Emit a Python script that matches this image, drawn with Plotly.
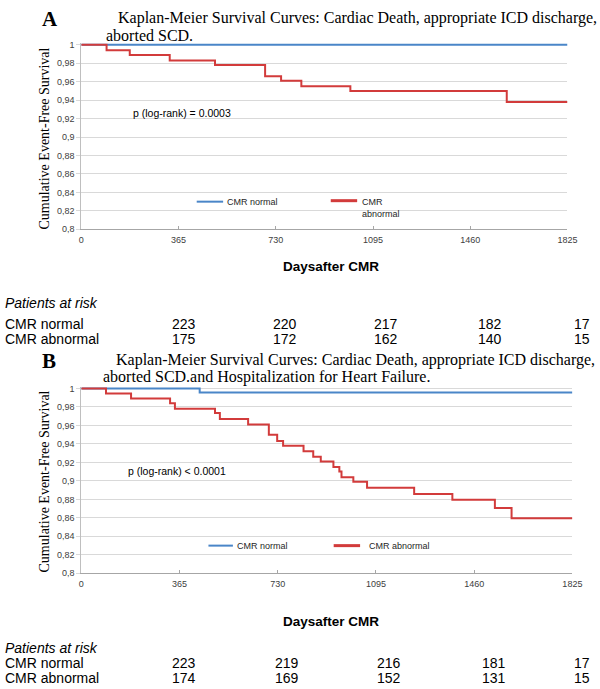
import plotly.graph_objects as go

W, H = 600, 689

# ---------------- data ----------------
day_ticks = [0, 365, 730, 1095, 1460, 1825]
surv_ticks = [0.8, 0.82, 0.84, 0.86, 0.88, 0.9, 0.92, 0.94, 0.96, 0.98, 1.0]
surv_tick_labels = ["0,8", "0,82", "0,84", "0,86", "0,88", "0,9", "0,92", "0,94", "0,96", "0,98", "1"]

# Panel A
a_normal_days = [0, 1825]
a_normal_surv = [1.0, 1.0]
a_abn_days = [0, 95, 182, 332, 502, 690, 750, 826, 1010, 1597, 1825]
a_abn_surv = [1.0, 0.994, 0.989, 0.983, 0.978, 0.966, 0.961, 0.955, 0.950, 0.938, 0.938]

# Panel B
b_normal_days = [0, 440, 1825]
b_normal_surv = [1.0, 0.9957, 0.9957]
b_abn_days = [0, 92, 185, 330, 348, 497, 515, 620, 697, 728, 750, 826, 862, 890,
              937, 959, 967, 1011, 1062, 1237, 1379, 1537, 1599, 1825]
b_abn_surv = [1.0, 0.9946, 0.989, 0.984, 0.978, 0.9733, 0.967, 0.961, 0.950, 0.943,
              0.938, 0.932, 0.926, 0.921, 0.915, 0.910, 0.904, 0.899, 0.8925, 0.8857,
              0.8796, 0.8707, 0.8596, 0.8596]

risk_days = [365, 730, 1095, 1460, 1825]
a_risk_normal = ["223", "220", "217", "182", "17"]
a_risk_abn = ["175", "172", "162", "140", "15"]
b_risk_normal = ["223", "219", "216", "181", "17"]
b_risk_abn = ["174", "169", "152", "131", "15"]

title_a = ["Kaplan-Meier Survival Curves: Cardiac Death, appropriate ICD discharge,",
           "aborted SCD."]
title_b = ["Kaplan-Meier Survival Curves: Cardiac Death, appropriate ICD discharge,",
           "aborted SCD.and Hospitalization for Heart Failure."]

BLUE = "#4a86c8"
RED = "#d23b3b"
SERIF = "Liberation Serif, Times New Roman, serif"
SANS = "Liberation Sans, Arial, sans-serif"


def px(x):
    return x / W


def py(y):
    return 1 - y / H


fig = go.Figure()

fig.add_trace(go.Scatter(x=a_normal_days, y=a_normal_surv, mode="lines", line=dict(color=BLUE, width=2, shape="hv"),
                         xaxis="x", yaxis="y", showlegend=False))
fig.add_trace(go.Scatter(x=a_abn_days, y=a_abn_surv, mode="lines", line=dict(color=RED, width=2, shape="hv"),
                         xaxis="x", yaxis="y", showlegend=False))
fig.add_trace(go.Scatter(x=b_normal_days, y=b_normal_surv, mode="lines", line=dict(color=BLUE, width=2, shape="hv"),
                         xaxis="x2", yaxis="y2", showlegend=False))
fig.add_trace(go.Scatter(x=b_abn_days, y=b_abn_surv, mode="lines", line=dict(color=RED, width=2, shape="hv"),
                         xaxis="x2", yaxis="y2", showlegend=False))

xcommon = dict(range=[0, 1825], tickvals=day_ticks, ticktext=[str(d) for d in day_ticks],
               showgrid=False, zeroline=False, showline=True, linecolor="#a6a6a6", linewidth=1,
               ticks="inside", ticklen=3, tickcolor="#a6a6a6",
               tickfont=dict(family=SANS, size=9, color="#404040"), ticklabelstandoff=2)
ycommon = dict(range=[0.8, 1.002], tickvals=surv_ticks, ticktext=surv_tick_labels,
               showgrid=True, gridcolor="#d9d9d9", gridwidth=1, zeroline=False,
               showline=True, linecolor="#bfbfbf", linewidth=1,
               ticks="outside", ticklen=4, tickcolor="#d9d9d9",
               tickfont=dict(family=SANS, size=9, color="#404040"))

fig.update_layout(
    width=W, height=H, margin=dict(l=0, r=0, t=0, b=0),
    paper_bgcolor="white", plot_bgcolor="white",
    xaxis=dict(domain=[px(80), px(577)], anchor="y", **xcommon),
    yaxis=dict(domain=[py(229), py(40.4)], anchor="x", **ycommon),
    xaxis2=dict(domain=[px(80), px(582)], anchor="y2", **xcommon),
    yaxis2=dict(domain=[py(577), py(388.1)], anchor="x2", **ycommon),
)

ann = []


def text(x, y, s, size, family=SANS, anchor="left", color="#000000", bold=False, italic=False, angle=0):
    if bold:
        s = "<b>" + s + "</b>"
    if italic:
        s = "<i>" + s + "</i>"
    ann.append(dict(x=px(x), y=py(y), xref="paper", yref="paper", text=s, showarrow=False,
                    xanchor=anchor, yanchor="middle", textangle=angle,
                    font=dict(family=family, size=size, color=color)))


# panel letters and titles
text(38, 16, "A", 21, family=SERIF, bold=True)
text(116, 15, title_a[0], 16, family=SERIF)
text(103, 33, title_a[1], 16, family=SERIF)
text(38, 362, "B", 21, family=SERIF, bold=True)
text(113, 361, title_b[0], 16, family=SERIF)
text(100, 378, title_b[1], 16, family=SERIF)

# y-axis titles
text(42, 137, "Cumulative Event-Free Survival", 14, family=SERIF, anchor="center", angle=-90)
text(42, 484, "Cumulative Event-Free Survival", 14, family=SERIF, anchor="center", angle=-90)

# p values
text(131, 111, "p (log-rank) = 0.0003", 10.5)
text(126, 474, "p (log-rank) < 0.0001", 10.5)

# legends
shapes = []
for (x0, x1, y, c, w) in [(198, 225, 201, BLUE, 2), (335, 362, 200, RED, 3),
                          (210, 235, 549, BLUE, 2), (338, 365, 549, RED, 3)]:
    shapes.append(dict(type="line", xref="paper", yref="paper", x0=px(x0), x1=px(x1), y0=py(y), y1=py(y),
                       line=dict(color=c, width=w)))
text(227, 201, "CMR normal", 9, color="#262626")
text(365, 201, "CMR", 9, color="#262626")
text(365, 213, "abnormal", 9, color="#262626")
text(237, 549, "CMR normal", 9, color="#262626")
text(372, 549, "CMR abnormal", 9, color="#262626")

# x-axis titles
text(335, 267, "Daysafter CMR", 13.5, anchor="center", bold=True)
text(335, 626, "Daysafter CMR", 13.5, anchor="center", bold=True)

# patients at risk
text(0, 304, "Patients at risk", 14, italic=True)
text(0, 325, "CMR normal", 14)
text(0, 340, "CMR abnormal", 14)
text(0, 653, "Patients at risk", 14, italic=True)
text(0, 668, "CMR normal", 14)
text(0, 683, "CMR abnormal", 14)

col_shift = [5, 9, 13, 20, 15]
for i, d in enumerate(risk_days):
    for (xr, y, lab) in [("x", 325, a_risk_normal[i]), ("x", 340, a_risk_abn[i]),
                         ("x2", 668, b_risk_normal[i]), ("x2", 683, b_risk_abn[i])]:
        sh = col_shift[i] - (5 if (xr == "x2" and i == 4) else 0)
        ann.append(dict(x=d, xref=xr, y=py(y), yref="paper", text=lab, showarrow=False,
                        xanchor="center", yanchor="middle", xshift=sh,
                        font=dict(family=SANS, size=14, color="#000000")))

fig.update_layout(annotations=ann, shapes=shapes)
fig.write_html("out.html", config={"displayModeBar": False},
               post_script="document.body.style.margin='0';document.body.style.overflow='hidden';")
